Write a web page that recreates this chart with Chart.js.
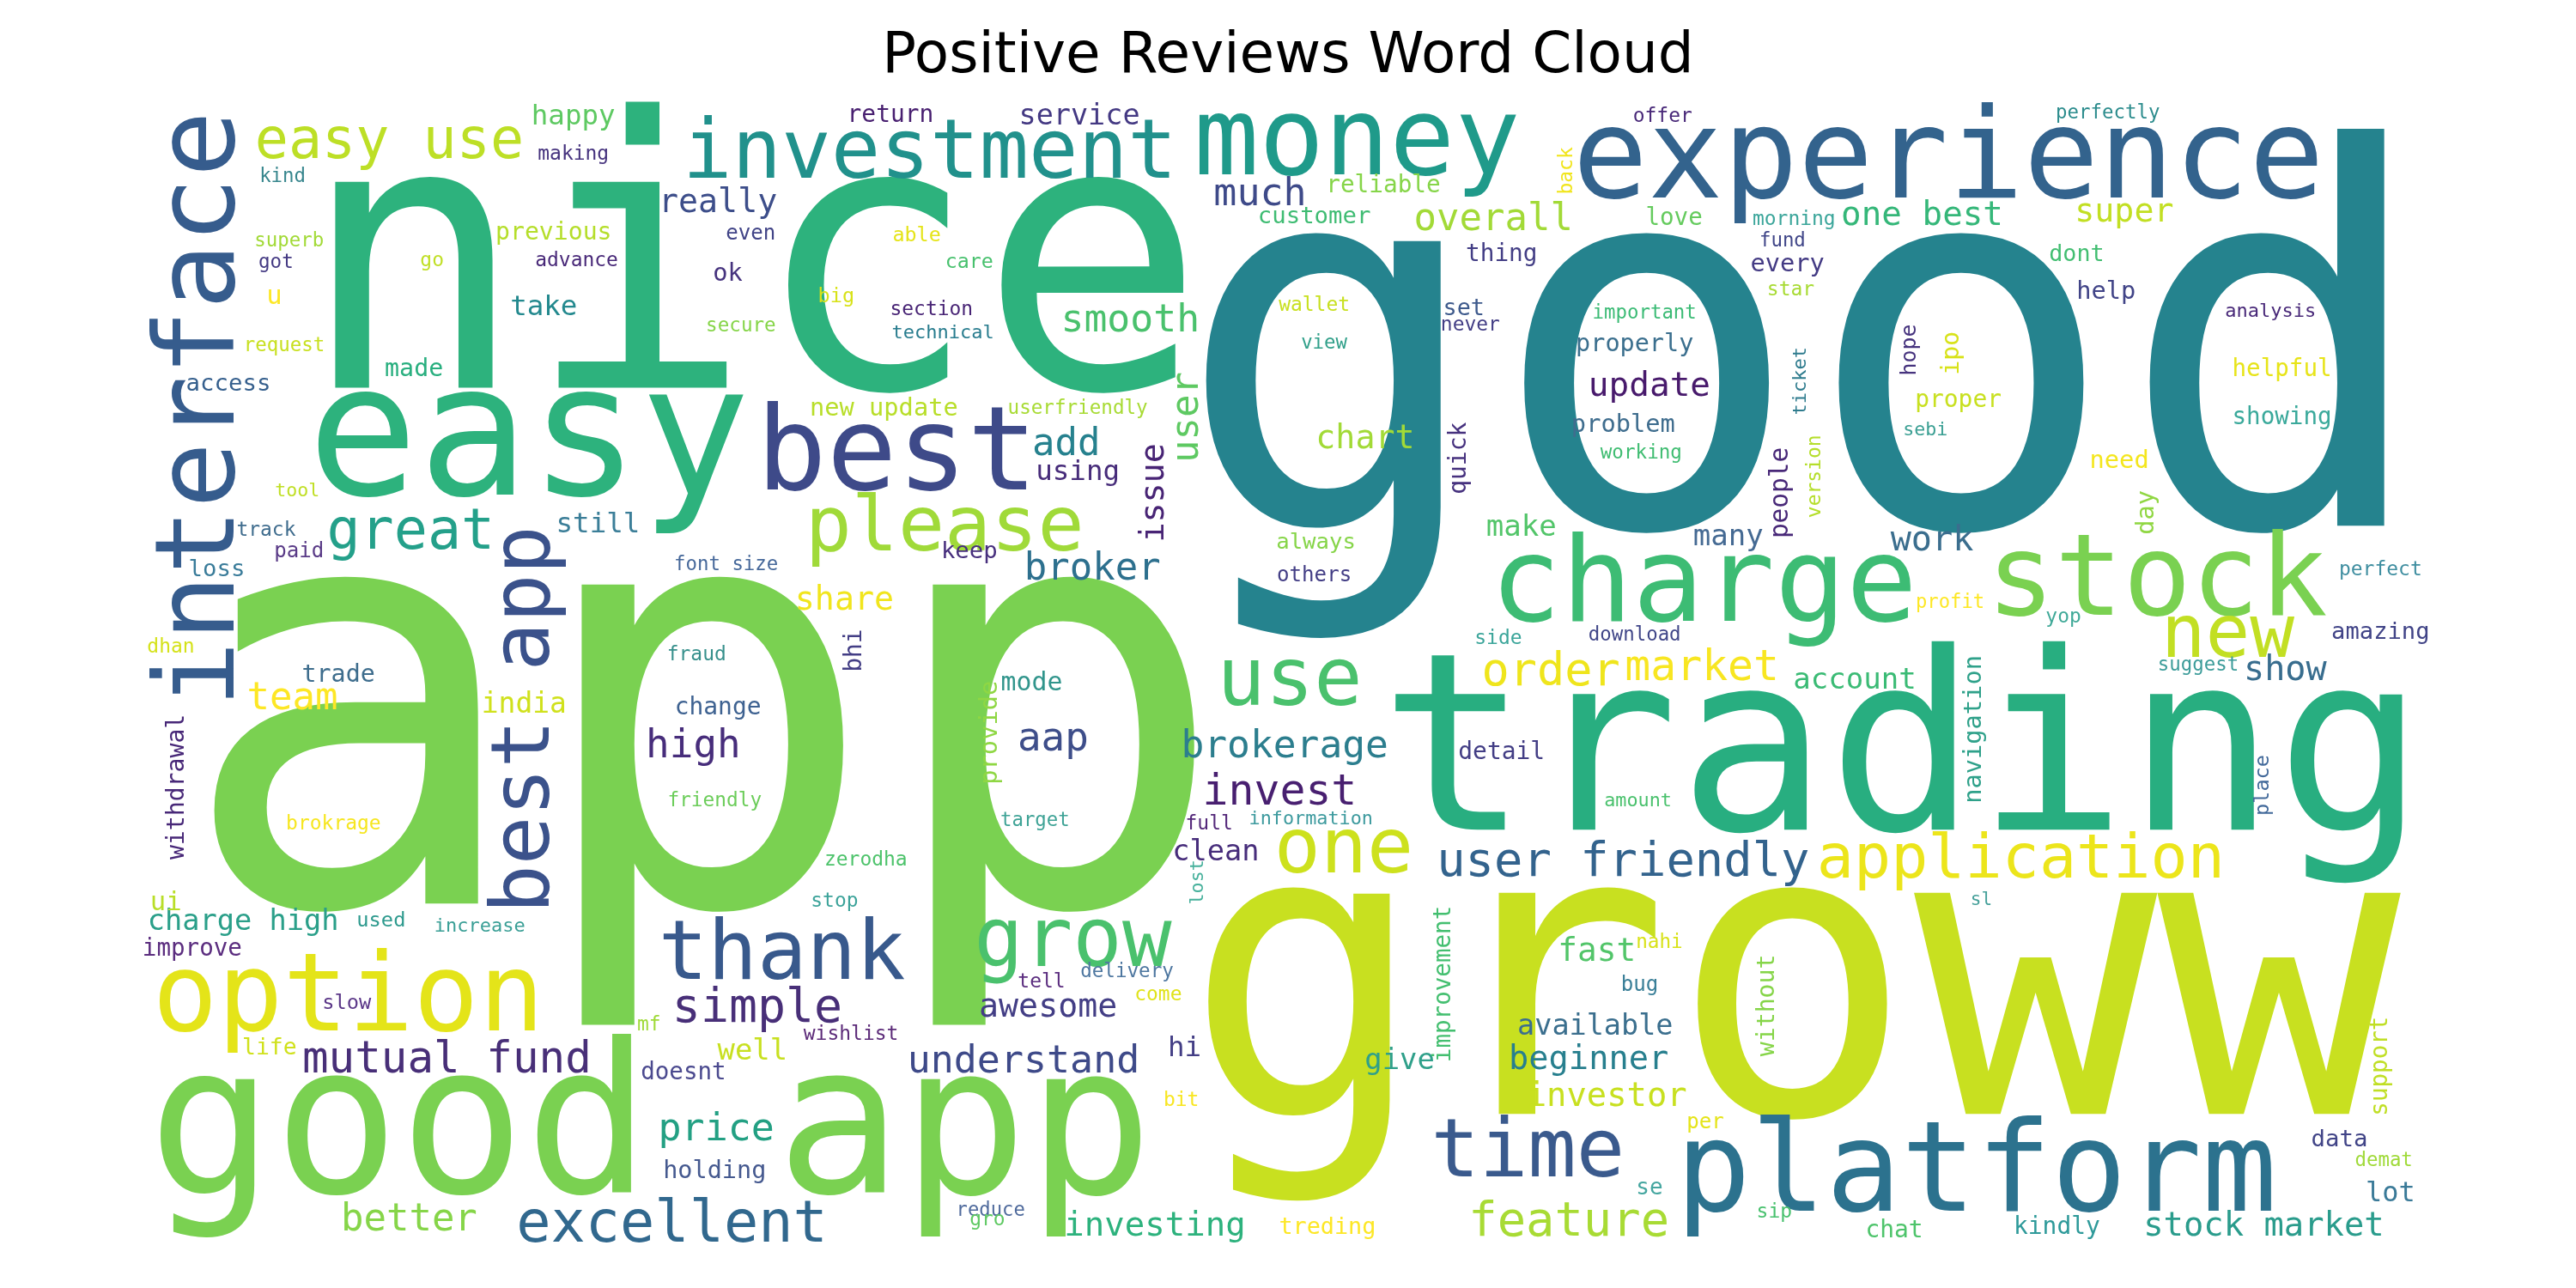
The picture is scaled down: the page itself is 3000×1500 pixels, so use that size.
<!DOCTYPE html>
<html>
<head>
<meta charset="utf-8">
<title>Positive Reviews Word Cloud</title>
<script src="https://cdn.jsdelivr.net/npm/chart.js@4.4.1/dist/chart.umd.min.js"></script>
<style>
  html, body { margin: 0; background: #fff; }
  #cloud { display: block; }
</style>
</head>
<body>
<canvas id="cloud" width="3000" height="1500"></canvas>
<script>
// word cloud: layout units are the picture's own grid,
// weight = font size in the same units
const words = [
  'good', 'app', 'nice', 'groww', 'trading', 'experience', 'easy', 'investment', 'money', 'best',
  'charge', 'stock', 'please', 'option', 'good app', 'platform', 'thank', 'grow', 'time', 'use',
  'one', 'new', 'application', 'great', 'easy use', 'excellent', 'user friendly', 'feature', 'simple', 'order',
  'mutual fund', 'market', 'invest', 'brokerage', 'understand', 'smooth', 'much', 'overall', 'broker', 'team',
  'high', 'price', 'aap', 'better', 'add', 'work', 'show', 'update', 'one best', 'stock market',
  'investor', 'investing', 'beginner', 'share', 'chart', 'super', 'really', 'awesome', 'fast', 'charge high',
  'make', 'many', 'account', 'clean', 'well', 'give', 'available', 'service', 'happy', 'india',
  'take', 'still', 'using', 'lot', 'ui', 'u', 'ok', 'mode', 'trade', 'holding',
  'previous', 'properly', 'problem', 'every', 'help', 'need', 'doesnt', 'improve', 'keep', 'dont',
  'loss', 'access', 'helpful', 'showing', 'reliable', 'return', 'customer', 'love', 'thing', 'set',
  'detail', 'change', 'proper', 'treding', 'chat', 'kindly', 'data', 'amazing', 'life', 'always',
  'se', 'others', 'paid', 'even', 'bug', 'per', 'slow', 'used', 'big', 'able',
  'care', 'go', 'kind', 'superb', 'got', 'request', 'making', 'advance', 'made', 'tool',
  'track', 'dhan', 'brokrage', 'fraud', 'font size', 'friendly', 'secure', 'section', 'technical', 'new update',
  'userfriendly', 'offer', 'perfectly', 'morning', 'fund', 'star', 'analysis', 'sebi', 'wallet', 'view',
  'never', 'important', 'working', 'side', 'download', 'amount', 'full', 'information', 'target', 'zerodha',
  'profit', 'yop', 'perfect', 'suggest', 'stop', 'wishlist', 'tell', 'delivery', 'come', 'hi',
  'bit', 'reduce', 'gro', 'increase', 'mf', 'nahi', 'sip', 'sl', 'demat'
];
const weights = [
  318, 355, 229, 246, 151, 76, 112, 50, 66, 71,
  72, 69, 47, 66, 127, 76, 50, 50, 49, 49,
  47, 45, 37.5, 34, 34, 35, 29, 29, 28.7, 28,
  26.6, 26, 26, 23.3, 23.5, 23.4, 23.5, 23, 23, 23,
  24, 23.5, 24, 23, 23, 21, 21, 20.6, 20.5, 20.3,
  20.3, 20.4, 20.2, 20, 20, 20, 20, 20, 19.7, 17.6,
  17.8, 17.8, 17.8, 17.6, 17.7, 17.7, 17.5, 17.5, 17, 17.2,
  17, 17, 17, 16.7, 16, 16, 15, 15.6, 14.8, 14.9,
  14.7, 14.9, 15, 15, 15, 15, 14.4, 14.4, 14.3, 14,
  14.3, 14.3, 14.4, 14.4, 14.5, 14.6, 14.3, 14.4, 14.5, 14,
  14.6, 14.6, 14.6, 14, 14.6, 14.6, 14.3, 14.2, 13.8, 13.4,
  13.6, 12.6, 12.6, 12.6, 12.6, 12.6, 12.4, 12.4, 12.3, 12.2,
  12.2, 12, 11.7, 11.7, 11.8, 11.7, 12, 12, 14.8, 11.3,
  12, 12, 12, 12, 11.7, 11.9, 11.8, 12, 11.5, 15,
  11.8, 12, 11.7, 12, 11.7, 12, 11.5, 11.3, 12, 11.7,
  12, 11.7, 11.8, 12, 11.7, 11.4, 12, 11.4, 11.7, 12,
  11.6, 12, 12, 11.7, 12, 12, 12, 11.8, 12, 17,
  12, 11.6, 12, 11.5, 12, 11.8, 12, 11, 11.7
];
const layoutX = [
  1098, 428, 458, 1091, 1158, 1186, 322, 566, 826, 546,
  1037, 1313, 575, 212, 396, 1203, 476, 653, 930, 785,
  818, 1356, 1230, 250, 237, 409, 988, 955, 461, 944,
  272, 1036, 779, 782, 623, 688, 767, 909, 665, 178,
  422, 436, 641, 249, 649, 1176, 1391, 1004, 1170, 1378,
  978, 703, 967, 514, 831, 1293, 437, 638, 972, 148,
  926, 1052, 1129, 740, 458, 852, 971, 657, 349, 319,
  331, 364, 656, 1455, 101, 167, 443, 628, 206, 435,
  337, 995, 988, 1088, 1282, 1290, 416, 117, 590, 1264,
  132, 139, 1389, 1389, 842, 542, 800, 1019, 914, 891,
  914, 437, 1192, 808, 1153, 1252, 1424, 1449, 164, 801,
  1004, 800, 182, 457, 998, 1038, 211, 232, 509, 558,
  590, 263, 172, 176, 168, 173, 349, 351, 252, 181,
  162, 104, 203, 424, 442, 435, 451, 567, 574, 538,
  656, 1012, 1283, 1092, 1085, 1090, 1382, 1172, 800, 806,
  895, 1001, 999, 912, 995, 997, 736, 798, 630, 527,
  1187, 1256, 1449, 1338, 508, 518, 634, 686, 705, 721,
  719, 603, 601, 292, 395, 1010, 1080, 1206, 1451
];
const layoutY = [
  320, 550, 236, 678, 505, 120, 301, 108, 106, 298,
  378, 374, 335, 627, 726, 737, 596, 588, 716, 429,
  531, 400, 534, 334, 96, 756, 533, 752, 622, 417,
  653, 414, 490, 461, 653, 202, 125, 140, 353, 432,
  461, 694, 457, 749, 277, 335, 414, 241, 137, 752,
  673, 752, 651, 371, 273, 135, 129, 619, 585, 566,
  326, 332, 419, 524, 645, 651, 630, 76, 76, 434,
  192, 324, 292, 731, 554, 185, 171, 420, 415, 717,
  146, 214, 263, 165, 182, 285, 657, 582, 340, 159,
  351, 238, 229, 258, 117, 74, 136, 137, 159, 192,
  462, 435, 248, 751, 753, 751, 698, 389, 642, 334,
  727, 354, 339, 146, 603, 687, 614, 564, 184, 147,
  163, 162, 111, 150, 163, 214, 97, 162, 229, 302,
  326, 397, 505, 402, 347, 491, 202, 192, 206, 253,
  252, 74, 72, 137, 150, 180, 193, 265, 189, 212,
  201, 194, 279, 392, 390, 491, 505, 502, 503, 527,
  370, 379, 350, 408, 552, 633, 601, 595, 609, 643,
  673, 740, 746, 567, 627, 577, 741, 551, 710
];
const wordColors = [
  '#25838e', '#7ad151', '#2db27d', '#c8e020', '#28ae80', '#33638d', '#2db27d', '#21918c', '#1f9a8a', '#3e4a89',
  '#3dbc74', '#7ad151', '#a0da39', '#e4e419', '#7ad151', '#2c728e', '#38598c', '#4ac16d', '#3a5a8d', '#4ac16d',
  '#cde11d', '#c2df23', '#ece51b', '#24a08a', '#bddf26', '#31688e', '#33638d', '#a8db34', '#482f78', '#efe51c',
  '#482f78', '#f8e621', '#481f70', '#2c7e8e', '#3e4a89', '#4ac16d', '#3e4a89', '#a2da37', '#2d708e', '#fde725',
  '#472d7b', '#23a083', '#3e4e8a', '#86d549', '#26818e', '#3b6e8e', '#386d8e', '#481a6c', '#35b779', '#2a9c8c',
  '#c8e020', '#2db27d', '#277f8e', '#f1e51d', '#a2da37', '#c2df23', '#3d4e8a', '#433e85', '#52c569', '#2a9f89',
  '#52c569', '#456a93', '#3bbb75', '#472d7b', '#c8e020', '#2fa08a', '#3b6f8e', '#443983', '#5ec962', '#d0e11c',
  '#23898e', '#3b7e98', '#472c7a', '#3a7a98', '#b9de28', '#fde725', '#46337e', '#31958c', '#3e6d8d', '#45598f',
  '#b5de2b', '#3b6f8e', '#3f6d8e', '#443b84', '#414487', '#f4e61e', '#4b4a8f', '#5b2d7f', '#472f7d', '#42be71',
  '#3a7c9a', '#355f8d', '#e7e419', '#3aa99b', '#86d549', '#481f70', '#3fbc73', '#65cb5e', '#433e85', '#3e5a8c',
  '#433e85', '#3e6291', '#c8e020', '#fde725', '#4ec46b', '#2e9a9a', '#414487', '#414487', '#d0e11c', '#86d549',
  '#45a6a0', '#433e85', '#5a3b87', '#414487', '#3a7f98', '#e5e419', '#5b3788', '#2e9a8e', '#d8e219', '#e5e419',
  '#48c16e', '#c0df25', '#37868d', '#a2da37', '#443a83', '#c8e020', '#46337e', '#482878', '#29af7f', '#c0df25',
  '#406d8e', '#d5e21a', '#f6e620', '#37908c', '#46689a', '#6ccd5a', '#86d549', '#482475', '#287c8e', '#b8de29',
  '#a8db34', '#482878', '#2c8c8d', '#3aa59a', '#404688', '#a8db34', '#482878', '#3a9f93', '#c8e020', '#31a08a',
  '#433e85', '#3bbb75', '#40bd72', '#3ba59a', '#404688', '#4ac16d', '#54287a', '#3d9a9e', '#3fa396', '#4dc36b',
  '#fde725', '#40a998', '#3f8ea0', '#3c9c9a', '#3ca39a', '#5c2b79', '#5b2d7f', '#4e77a0', '#e0e31a', '#433e85',
  '#f8e621', '#4f6a9c', '#5ec962', '#3a9f96', '#a0da39', '#d8e219', '#48c16e', '#45a09a', '#a0da39'
];

// words set upright (reading bottom to top)
const vWords = [
  'interface', 'best app', 'user', 'issue', 'withdrawal', 'navigation', 'improvement', 'provide', 'without', 'support',
  'people', 'version', 'quick', 'ticket', 'day', 'back', 'hope', 'ipo', 'bhi', 'place', 'lost'
];
const vWeights = [67, 49, 23, 20, 14.7, 15, 14.4, 15, 14.7, 14.4, 15.4, 12, 14.6, 11.5, 15, 12, 13, 14.7, 14.4, 12.3, 11.3];
const vLayoutX = [142, 334, 729, 708, 112, 1206, 883, 607, 1080, 1453, 1088, 1108, 892, 1099, 1311, 957, 1166, 1192, 524, 1381, 732];
const vLayoutY = [249, 438, 254, 300, 479, 444, 599, 446, 612, 649, 300, 290, 279, 232, 312, 104, 213, 215, 396, 478, 537];
const vColors = [
  '#365c8d', '#3b528b', '#5ec962', '#482475', '#482878', '#2fa18a', '#44bf70', '#8fd744', '#86d549', '#c0df25',
  '#482878', '#b5de2b', '#46317e', '#2f7c8e', '#90d743', '#f1e51d', '#46337e', '#d8e219', '#433e85', '#42699a', '#45b09b'
];

// visible window of the layout grid
const extentX = [57.5, 1510.5];
const extentY = [52.3, 778.8];

const wordLayer = {
  id: 'wordLayer',
  afterDatasetsDraw(chart) {
    const ctx = chart.ctx;
    const xs = chart.scales.x;
    const unit = Math.abs(xs.getPixelForValue(1) - xs.getPixelForValue(0));
    chart.data.datasets.forEach((ds, d) => {
      const meta = chart.getDatasetMeta(d);
      meta.data.forEach((pt, i) => {
        ctx.save();
        ctx.font = (ds.weights[i] * unit).toFixed(2) + 'px "DejaVu Sans Mono", monospace';
        ctx.fillStyle = ds.wordColors[i];
        ctx.textAlign = 'center';
        ctx.textBaseline = 'alphabetic';
        ctx.translate(pt.x, pt.y);
        if (ds.vertical) ctx.rotate(-Math.PI / 2);
        ctx.fillText(ds.words[i], 0, 0);
        ctx.restore();
      });
    });
  }
};

new Chart(document.getElementById('cloud'), {
  type: 'scatter',
  data: {
    datasets: [
      {
        words: words,
        weights: weights,
        wordColors: wordColors,
        vertical: false,
        data: words.map((w, i) => ({ x: layoutX[i], y: layoutY[i] })),
        pointRadius: 0,
        pointHoverRadius: 0
      },
      {
        words: vWords,
        weights: vWeights,
        wordColors: vColors,
        vertical: true,
        data: vWords.map((w, i) => ({ x: vLayoutX[i], y: vLayoutY[i] })),
        pointRadius: 0,
        pointHoverRadius: 0
      }
    ]
  },
  options: {
    responsive: false,
    devicePixelRatio: 1,
    animation: false,
    layout: { padding: { left: 110, right: 110, top: 0, bottom: 10 } },
    plugins: {
      legend: { display: false },
      tooltip: { enabled: false },
      title: {
        display: true,
        text: 'Positive Reviews Word Cloud',
        color: '#000',
        font: { family: '"DejaVu Sans", sans-serif', size: 66, weight: 'normal', lineHeight: 1 },
        padding: { top: 34, bottom: 0 }
      }
    },
    scales: {
      x: { type: 'linear', min: extentX[0], max: extentX[1], display: false },
      y: { type: 'linear', min: extentY[0], max: extentY[1], reverse: true, display: false }
    }
  },
  plugins: [wordLayer]
});
</script>
</body>
</html>
